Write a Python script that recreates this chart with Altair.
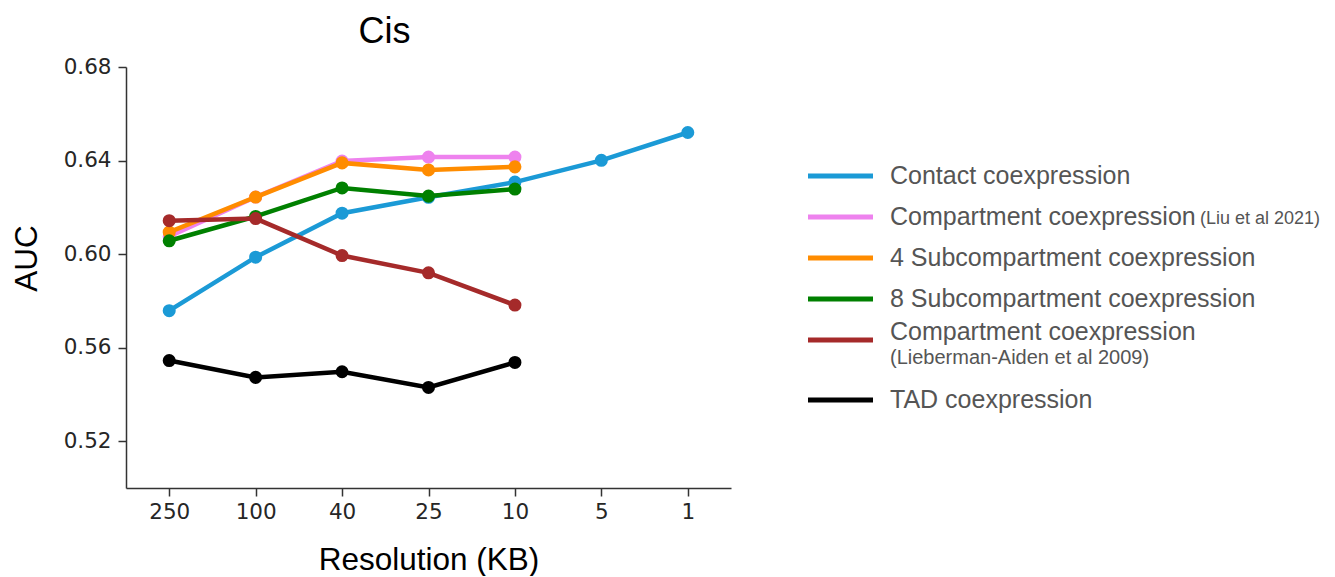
import altair as alt
import pandas as pd

# ---- data ----
resolutions = ["250", "100", "40", "25", "10", "5", "1"]
series_names = [
    "Contact coexpression",
    "Compartment coexpression (Liu et al 2021)",
    "4 Subcompartment coexpression",
    "8 Subcompartment coexpression",
    "Compartment coexpression (Lieberman-Aiden et al 2009)",
    "TAD coexpression",
]
series_colors = ["#1b9ad6", "#ee82ee", "#ff8c00", "#008000", "#a52a2a", "#000000"]

contact_auc = [0.5758, 0.5987, 0.6175, 0.6243, 0.6308, 0.6401, 0.6520]
liu_auc = [0.6075, 0.6244, 0.6398, 0.6415, 0.6415]
sub4_auc = [0.6094, 0.6244, 0.6390, 0.6360, 0.6373]
sub8_auc = [0.6057, 0.6161, 0.6283, 0.6248, 0.6278]
lieb_auc = [0.6143, 0.6152, 0.5994, 0.5920, 0.5782]
tad_auc = [0.5545, 0.5473, 0.5497, 0.5430, 0.5537]

legend_main = [
    "Contact coexpression",
    "Compartment coexpression",
    "4 Subcompartment coexpression",
    "8 Subcompartment coexpression",
    "Compartment coexpression",
    "TAD coexpression",
]
legend_inline_note = ["", "(Liu et al 2021)", "", "", "", ""]
legend_second_line = ["", "", "", "", "(Lieberman-Aiden et al 2009)", ""]

y_ticks = [0.52, 0.56, 0.60, 0.64, 0.68]

# ---- tables ----
all_values = [contact_auc, liu_auc, sub4_auc, sub8_auc, lieb_auc, tad_auc]
rows = []
for name, vals in zip(series_names, all_values):
    for r, v in zip(resolutions, vals):
        rows.append({"series": name, "res": r, "auc": v})
df = pd.DataFrame(rows)

# legend slots: a two-line entry takes extra room after it
slots = []
s = 0.0
for second in legend_second_line:
    slots.append(s)
    s += 1.46 if second else 1.0
leg = pd.DataFrame({
    "main": legend_main,
    "note": legend_inline_note,
    "second": legend_second_line,
    "color": series_colors,
    "slot": slots,
})

x_enc = alt.X(
    "res:N",
    sort=resolutions,
    scale=alt.Scale(type="point", padding=0.5),
    axis=alt.Axis(
        title="Resolution (KB)",
        labelAngle=0,
        titleFontSize=31.5,
        titleFont="Liberation Sans",
        titleFontWeight="normal",
        titleColor="#000000",
        titlePadding=22,
        labelFont="DejaVu Sans",
        labelFontSize=21.5,
        labelColor="#262626",
        labelPadding=5,
        tickSize=8,
        tickWidth=1.5,
        tickColor="#333333",
        domainColor="#333333",
        domainWidth=1.5,
        grid=False,
    ),
)
y_enc = alt.Y(
    "auc:Q",
    scale=alt.Scale(domain=[0.5, 0.68], nice=False, zero=False),
    axis=alt.Axis(
        title="AUC",
        values=y_ticks,
        format=".2f",
        titleFontSize=31.5,
        titleFont="Liberation Sans",
        titleFontWeight="normal",
        titleColor="#000000",
        titleX=-83,
        titleY=191,
        labelFont="DejaVu Sans",
        labelFontSize=21.5,
        labelColor="#262626",
        labelPadding=7,
        tickSize=8,
        tickWidth=1.5,
        tickColor="#333333",
        domainColor="#333333",
        domainWidth=1.5,
        grid=False,
    ),
)

layers = []
for name, col in zip(series_names, series_colors):
    base = alt.Chart(df).transform_filter(alt.datum.series == name)
    layers.append(base.mark_line(color=col, strokeWidth=4.5).encode(x=x_enc, y=y_enc))
    layers.append(base.mark_circle(color=col, size=170, opacity=1).encode(x=x_enc, y=y_enc))

leg_y = alt.Y("slot:Q", scale=alt.Scale(domain=[0, 5.46], range=[109, 333]), axis=None)
legend_base = alt.Chart(leg)
legend_lines = legend_base.mark_rule(strokeWidth=5).encode(
    x=alt.value(682), x2=alt.value(747), y=leg_y,
    color=alt.Color("color:N", scale=None),
)
legend_text_single = legend_base.transform_filter(alt.datum.second == "").mark_text(
    align="left", baseline="middle", fontSize=25, font="Liberation Sans", color="#555555", dy=0
).encode(x=alt.value(764), y=leg_y, text="main:N")
legend_text_double = legend_base.transform_filter(alt.datum.second != "").mark_text(
    align="left", baseline="middle", fontSize=25, font="Liberation Sans", color="#555555", dy=-8
).encode(x=alt.value(764), y=leg_y, text="main:N")
legend_text_second = legend_base.transform_filter(alt.datum.second != "").mark_text(
    align="left", baseline="middle", fontSize=20, font="Liberation Sans", color="#555555", dy=18
).encode(x=alt.value(764), y=leg_y, text="second:N")
legend_text_note = legend_base.transform_filter(alt.datum.note != "").mark_text(
    align="left", baseline="middle", fontSize=18, font="Liberation Sans", color="#555555", dy=2
).encode(x=alt.value(1074), y=leg_y, text="note:N")

plot = alt.layer(*layers)
legend = alt.layer(legend_lines, legend_text_single, legend_text_double,
                   legend_text_second, legend_text_note)

chart = alt.layer(plot, legend).resolve_scale(y="independent").properties(
    width=605,
    height=421,
    padding={"left": 3, "top": 6, "right": 0, "bottom": 0},
    title=alt.TitleParams(
        text="Cis", fontSize=36, font="Liberation Sans", fontWeight="normal",
        color="#000000", anchor="middle", dx=-44, offset=5,
    ),
).configure(background="white").configure_view(strokeWidth=0, stroke="transparent")

chart.save("out.html", embed_options={"renderer": "svg", "actions": False})
